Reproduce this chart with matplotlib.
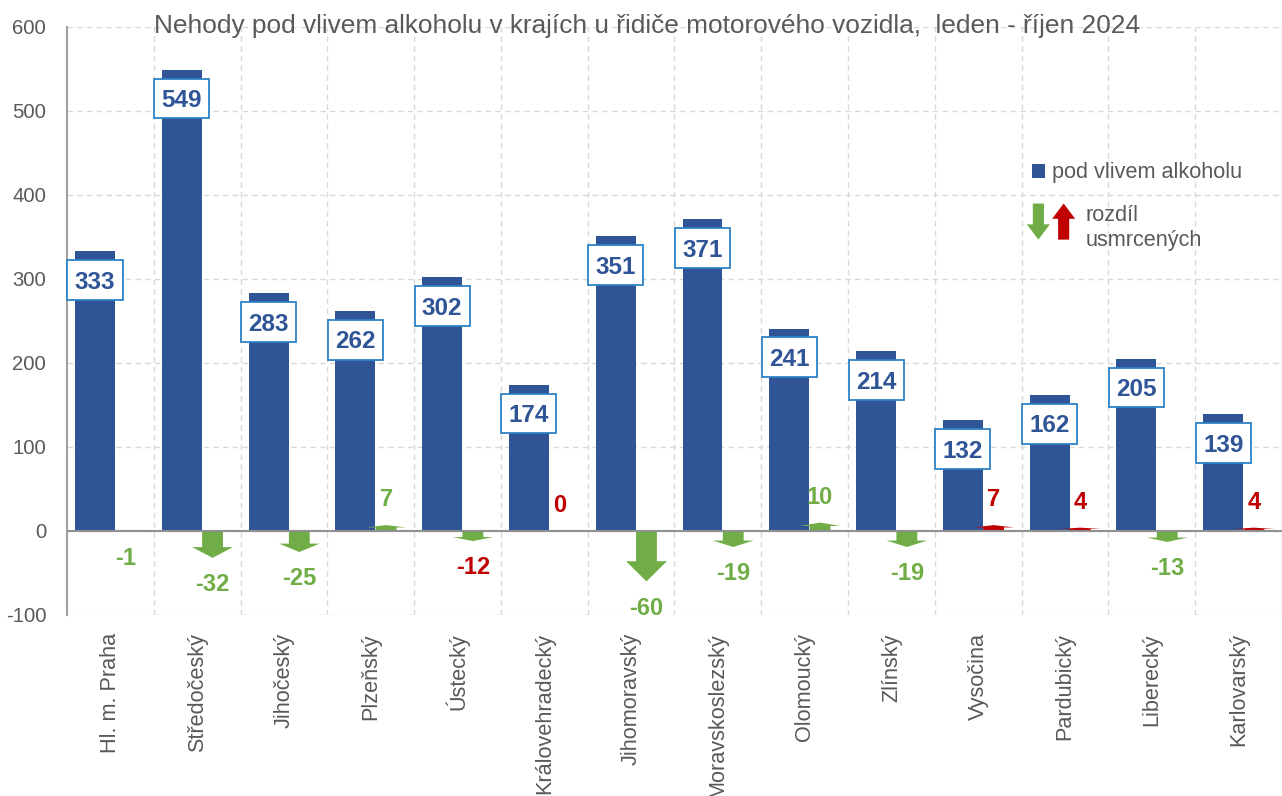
import matplotlib
matplotlib.use("Agg")
import matplotlib.pyplot as plt
import numpy as np
from matplotlib.legend_handler import HandlerBase
from matplotlib.patches import Patch, Polygon
from matplotlib.path import Path

plt.rcParams['font.family'] = ['Liberation Sans', 'DejaVu Sans']
plt.rcParams['axes.unicode_minus'] = False

# data
regions = ["Hl. m. Praha", "Středočeský", "Jihočeský", "Plzeňský", "Ústecký",
           "Královehradecký", "Jihomoravský", "Moravskoslezský", "Olomoucký",
           "Zlínský", "Vysočina", "Pardubický", "Liberecký", "Karlovarský"]
alcohol = [333, 549, 283, 262, 302, 174, 351, 371, 241, 214, 132, 162, 205, 139]
killed_diff = [-1, -32, -25, 7, -12, 0, -60, -19, 10, -19, 7, 4, -13, 4]

BLUE = "#2F5597"
BOX_EDGE = "#2E82C6"
GREEN = "#70AD47"
RED = "#C00000"
GREY = "#595959"

# colours as they appear in the source chart
arrow_colors = [GREEN, GREEN, GREEN, GREEN, GREEN, RED, GREEN,
                GREEN, GREEN, GREEN, RED, RED, GREEN, RED]
diff_label_colors = [GREEN, GREEN, GREEN, GREEN, RED, RED, GREEN,
                     GREEN, GREEN, GREEN, RED, RED, GREEN, RED]


def arrow_points(x, v, shaft=0.24, head=0.47, frac=0.4):
    base = v - frac * v
    return [(x - shaft / 2, 0), (x - shaft / 2, base), (x - head / 2, base),
            (x, v), (x + head / 2, base), (x + shaft / 2, base),
            (x + shaft / 2, 0)]


def label_box(x0, y0, width, height, mutation_size):
    # white value box, a bit taller and narrower than the default pad
    px = 0.30 * mutation_size
    pyt = 0.44 * mutation_size
    pyb = 0.25 * mutation_size
    x1, y1 = x0 + width + px, y0 + height + pyt
    x0, y0 = x0 - px, y0 - pyb
    return Path([(x0, y0), (x1, y0), (x1, y1), (x0, y1), (x0, y0)],
                closed=True)


class ArrowPairHandler(HandlerBase):
    def create_artists(self, legend, orig_handle, xdescent, ydescent,
                       width, height, fontsize, trans):
        yc = -ydescent + height / 2 + 5
        h = 13.0
        out = []
        for cx, sign, col in [(-xdescent + 8.3, -1, GREEN),
                              (-xdescent + 26.5, 1, RED)]:
            tip = yc + sign * h
            base = tip - sign * 11
            tail = yc - sign * h
            pts = [(cx - 4, tail), (cx - 4, base), (cx - 8.3, base), (cx, tip),
                   (cx + 8.3, base), (cx + 4, base), (cx + 4, tail)]
            out.append(Polygon(pts, closed=True, facecolor=col,
                               edgecolor='none', transform=trans))
        return out


fig = plt.figure(figsize=(12.82, 7.96), dpi=100)
ax = fig.add_axes([67 / 1282, 181 / 796, 1215 / 1282, 588 / 796])

x = np.arange(len(regions))
ax.bar(x - 0.177, alcohol, width=0.46, color=BLUE, zorder=3)

for xi, v, ac, lc in zip(x, killed_diff, arrow_colors, diff_label_colors):
    if v != 0:
        ax.add_patch(Polygon(arrow_points(xi + 0.177, v), closed=True,
                             facecolor=ac, edgecolor='none', zorder=3))
    ty = v - 32 if v < 0 else v + 30
    ax.text(xi + 0.177, ty, f"{v}", ha='center', va='center', color=lc,
            fontsize=17, fontweight='bold', zorder=5)

for xi, v in zip(x, alcohol):
    ax.text(xi - 0.177, v - 37, f"{v}", ha='center', va='center', color=BLUE,
            fontsize=17.5, fontweight='bold', zorder=6,
            bbox=dict(boxstyle=label_box, facecolor='white',
                      edgecolor=BOX_EDGE, linewidth=1.3))

ax.set_xlim(-0.5, len(regions) - 0.5)
ax.set_ylim(-100, 600)
ax.set_yticks(np.arange(-100, 601, 100))
ax.set_xticks(x)
ax.set_xticklabels(regions, rotation=90, fontsize=15.6, color=GREY)
ax.set_xticks(x + 0.5, minor=True)
ax.tick_params(axis='x', which='both', length=0, pad=13)
ax.tick_params(axis='y', length=0, pad=15, labelsize=14.6, labelcolor=GREY)

ax.grid(axis='y', which='major', color='#D9D9D9', linestyle=(0, (4, 3)),
        linewidth=1, zorder=0)
ax.grid(axis='x', which='minor', color='#D9D9D9', linestyle=(0, (4, 3)),
        linewidth=1, zorder=0)
ax.grid(axis='x', which='major', visible=False)

for s in ['top', 'right', 'bottom']:
    ax.spines[s].set_visible(False)
ax.spines['left'].set_color('#A0A0A0')
ax.spines['left'].set_linewidth(1.5)
ax.axhline(0, color='#909090', linewidth=1.5, zorder=4)

fig.text(647 / 1282, 1 - 26 / 796,
         "Nehody pod vlivem alkoholu v krajích u řidiče motorového vozidla,  leden - říjen 2024",
         ha='center', va='center', fontsize=18.9, color=GREY)

leg1 = ax.legend([Patch(facecolor=BLUE)], ["pod vlivem alkoholu"],
                 loc='center left', bbox_to_anchor=(0.794, 0.752),
                 frameon=False, fontsize=15.6, handlelength=0.6,
                 handleheight=0.6, handletextpad=0.32, borderpad=0,
                 borderaxespad=0, labelcolor=GREY)
ax.add_artist(leg1)
ax.legend([object()], ["rozdíl\nusmrcených"], loc='center left',
          bbox_to_anchor=(0.790, 0.658), frameon=False, fontsize=15.6,
          handlelength=2.21, handletextpad=0.51, borderpad=0,
          borderaxespad=0, labelcolor=GREY,
          handler_map={object: ArrowPairHandler()})

fig.savefig("out.png", dpi=100)
